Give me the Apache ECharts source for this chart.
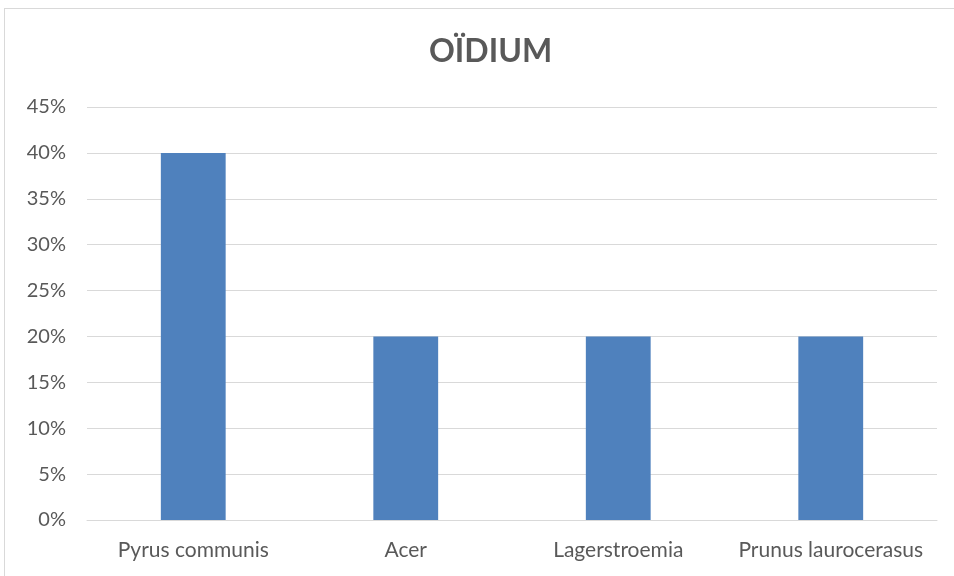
<!DOCTYPE html>
<html>
<head>
<meta charset="utf-8">
<script src="https://cdn.jsdelivr.net/npm/echarts@6/dist/echarts.min.js"></script>
<style>
  html, body { margin: 0; padding: 0; background: #fff; }
  #frame { position: absolute; left: 4px; top: 8px; width: 960px; height: 580px; border: 1px solid #d9d9d9; box-sizing: border-box; }
  #main { position: absolute; left: 0; top: 0; width: 954px; height: 576px; }
</style>
</head>
<body>
<div id="frame"></div>
<div id="main"></div>
<script>
// données
const categories = ['Pyrus communis', 'Acer', 'Lagerstroemia', 'Prunus laurocerasus'];
const values = [40, 20, 20, 20];
const yTicks = [0, 5, 10, 15, 20, 25, 30, 35, 40, 45];

const chart = echarts.init(document.getElementById('main'));
chart.setOption({
  animation: false,
  textStyle: { fontFamily: 'Lato' },
  title: {
    text: 'OÏDIUM',
    left: 424,
    top: 31,
    textStyle: { fontSize: 32, fontWeight: 'bold', color: '#595959', fontFamily: 'Lato' }
  },
  grid: { left: 87, right: 17, top: 107, bottom: 56 },
  xAxis: {
    type: 'category',
    data: categories,
    axisLine: { show: true, lineStyle: { color: '#d9d9d9', width: 1 } },
    axisTick: { show: false },
    axisLabel: { color: '#595959', fontSize: 21, margin: 20, interval: 0 }
  },
  yAxis: {
    type: 'value',
    min: yTicks[0],
    max: yTicks[yTicks.length - 1],
    interval: 5,
    axisLine: { show: false },
    axisTick: { show: false },
    splitLine: { lineStyle: { color: '#d9d9d9', width: 1 } },
    axisLabel: { color: '#595959', fontSize: 20, margin: 21, formatter: '{value}%' }
  },
  series: [{
    type: 'bar',
    data: values,
    barWidth: '30.5%',
    itemStyle: { color: '#4f81bd' }
  }]
});
</script>
</body>
</html>
